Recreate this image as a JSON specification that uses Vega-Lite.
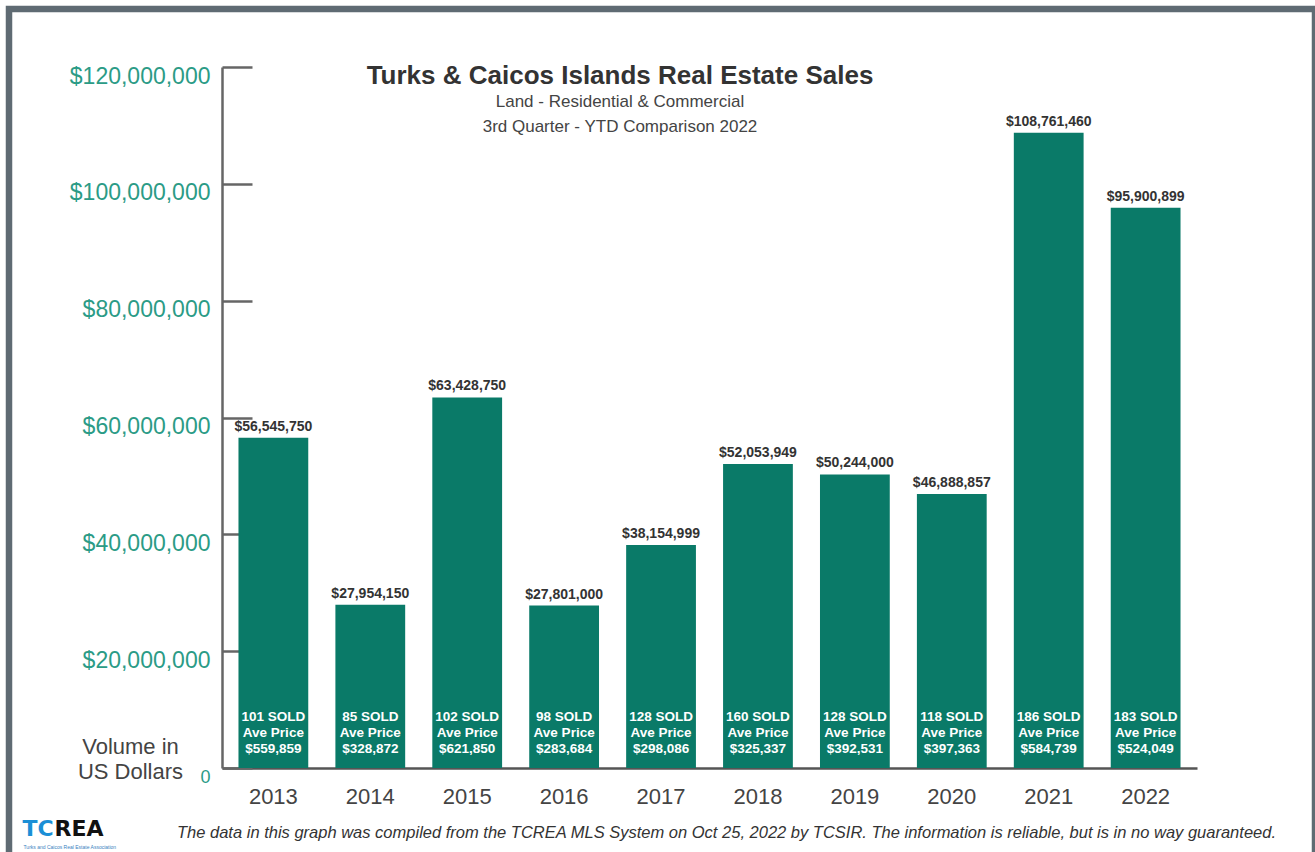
{
  "$schema": "https://vega.github.io/schema/vega-lite/v6.json",
  "width": 1306,
  "height": 843,
  "autosize": {"type": "none"},
  "padding": {"left": 9, "top": 9, "right": 0, "bottom": 0},
  "background": "white",
  "config": {
    "font": "Liberation Sans",
    "view": {"stroke": "#5f6b73", "strokeWidth": 6.5, "strokeDash": [2149, 1306, 843]}
  },
  "title": {
    "text": "Turks & Caicos Islands Real Estate Sales",
    "subtitle": ["Land - Residential & Commercial", "3rd Quarter - YTD Comparison 2022"],
    "anchor": "middle",
    "frame": "group",
    "dx": -42,
    "offset": -126,
    "fontSize": 26,
    "fontWeight": "bold",
    "color": "#333333",
    "subtitleFontSize": 17,
    "subtitleColor": "#444444",
    "subtitlePadding": 5,
    "subtitleLineHeight": 25
  },
  "data": {
    "values": [
      {"year": "2013", "volume": 56545750, "sold": 101, "avg": 559859},
      {"year": "2014", "volume": 27954150, "sold": 85, "avg": 328872},
      {"year": "2015", "volume": 63428750, "sold": 102, "avg": 621850},
      {"year": "2016", "volume": 27801000, "sold": 98, "avg": 283684},
      {"year": "2017", "volume": 38154999, "sold": 128, "avg": 298086},
      {"year": "2018", "volume": 52053949, "sold": 160, "avg": 325337},
      {"year": "2019", "volume": 50244000, "sold": 128, "avg": 392531},
      {"year": "2020", "volume": 46888857, "sold": 118, "avg": 397363},
      {"year": "2021", "volume": 108761460, "sold": 186, "avg": 584739},
      {"year": "2022", "volume": 95900899, "sold": 183, "avg": 524049}
    ]
  },
  "transform": [{"calculate": "datum.sold + ' SOLD'", "as": "soldLabel"}],
  "resolve": {"axis": {"x": "independent", "y": "independent"}},
  "layer": [
    {
      "mark": {"type": "bar", "color": "#0a7a68"},
      "encoding": {
        "x": {
          "field": "year",
          "type": "ordinal",
          "scale": {"range": [213, 1188], "paddingInner": 0.28, "paddingOuter": 0.17},
          "axis": {
            "orient": "bottom",
            "offset": -84,
            "ticks": false,
            "domainColor": "#555555",
            "domainWidth": 2.5,
            "labelFontSize": 22,
            "labelColor": "#444444",
            "labelPadding": 18,
            "labelAngle": 0,
            "title": "The data in this graph was compiled from the TCREA MLS System on Oct 25, 2022 by TCSIR.  The information is reliable, but is in no way guaranteed.",
            "titleFontStyle": "italic",
            "titleFontWeight": "normal",
            "titleFontSize": 16.5,
            "titleColor": "#333333",
            "titleX": 717,
            "titleY": 69,
            "titleAlign": "center",
            "titleBaseline": "alphabetic"
          }
        },
        "y": {
          "field": "volume",
          "type": "quantitative",
          "scale": {"domain": [0, 120000000], "range": [759, 58], "nice": false},
          "axis": {
            "orient": "left",
            "offset": -213,
            "values": [0, 20000000, 40000000, 60000000, 80000000, 100000000, 120000000],
            "grid": false,
            "domainColor": "#666666",
            "domainWidth": 2.5,
            "tickColor": "#666666",
            "tickWidth": 2.5,
            "tickSize": -30,
            "labelPadding": 42,
            "labelOffset": 9,
            "labelFlush": false,
            "labelOverlap": false,
            "labelFontSize": {"condition": {"test": "datum.value == 0", "value": 18}, "value": 23},
            "labelColor": "#2b9b86",
            "labelExpr": "datum.value == 0 ? '0' : '$' + format(datum.value, ',')",
            "title": ["Volume in", "US Dollars"],
            "titleAngle": 0,
            "titleAlign": "center",
            "titleBaseline": "alphabetic",
            "titleX": -92,
            "titleY": 744,
            "titleFontSize": 22,
            "titleFontWeight": "normal",
            "titleColor": "#444444",
            "titleLineHeight": 25
          }
        }
      }
    },
    {
      "mark": {"type": "text", "baseline": "bottom", "dy": -4, "fontSize": 14, "fontWeight": "bold", "color": "#333333"},
      "encoding": {
        "x": {
          "field": "year",
          "type": "ordinal",
          "axis": {
            "orient": "top",
            "domain": false,
            "ticks": false,
            "labels": false,
            "title": "TC",
            "titleFont": "DejaVu Sans",
            "titleFontSize": 22,
            "titleFontWeight": "bold",
            "titleColor": "#1b8fd6",
            "titleAlign": "left",
            "titleBaseline": "alphabetic",
            "titleX": 13,
            "titleY": 826
          }
        },
        "y": {"field": "volume", "type": "quantitative", "axis": null},
        "text": {"field": "volume", "type": "quantitative", "format": "$,.0f"}
      }
    },
    {
      "mark": {"type": "text", "baseline": "middle", "dy": -51, "fontSize": 13.5, "fontWeight": "bold", "color": "white"},
      "encoding": {
        "x": {"field": "year", "type": "ordinal", "axis": null},
        "y": {
          "datum": 0,
          "type": "quantitative",
          "axis": {
            "orient": "right",
            "domain": false,
            "ticks": false,
            "labels": false,
            "grid": false,
            "title": "REA",
            "titleAngle": 0,
            "titleFont": "DejaVu Sans",
            "titleFontSize": 22,
            "titleFontWeight": "bold",
            "titleColor": "#111111",
            "titleAlign": "left",
            "titleBaseline": "alphabetic",
            "titleX": -1261,
            "titleY": 826
          }
        },
        "text": {"field": "soldLabel", "type": "nominal"}
      }
    },
    {
      "mark": {"type": "text", "baseline": "middle", "dy": -35, "fontSize": 13.5, "fontWeight": "bold", "color": "white", "text": "Ave Price"},
      "encoding": {
        "x": {
          "field": "year",
          "type": "ordinal",
          "axis": {
            "orient": "bottom",
            "domain": false,
            "ticks": false,
            "labels": false,
            "title": "Turks and Caicos Real Estate Association",
            "titleFontSize": 5,
            "titleFontWeight": "normal",
            "titleColor": "#3a7fc0",
            "titleAlign": "left",
            "titleBaseline": "alphabetic",
            "titleX": 14,
            "titleY": -4
          }
        },
        "y": {"datum": 0, "type": "quantitative", "axis": null}
      }
    },
    {
      "mark": {"type": "text", "baseline": "middle", "dy": -19, "fontSize": 13.5, "fontWeight": "bold", "color": "white"},
      "encoding": {
        "x": {"field": "year", "type": "ordinal", "axis": null},
        "y": {"datum": 0, "type": "quantitative", "axis": null},
        "text": {"field": "avg", "type": "quantitative", "format": "$,.0f"}
      }
    }
  ]
}
